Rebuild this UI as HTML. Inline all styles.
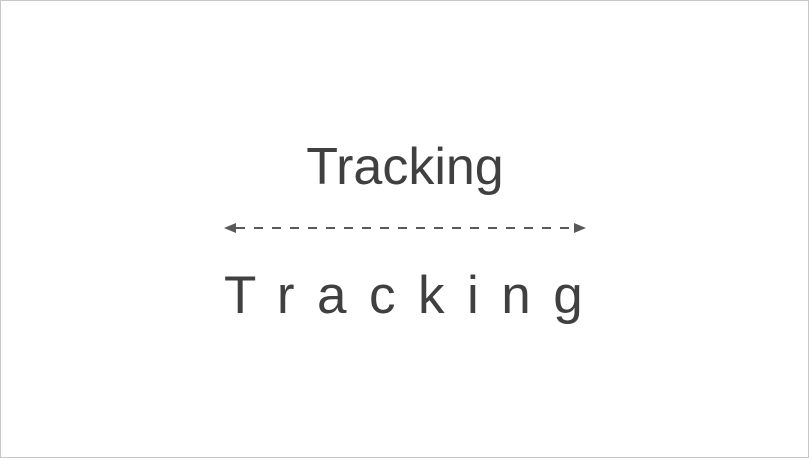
<!DOCTYPE html>
<html><head><meta charset="utf-8"><style>
html,body{margin:0;padding:0;background:#fff;}
svg{display:block;}
</style></head><body>
<svg width="809" height="458" viewBox="0 0 809 458">
<rect x="0.5" y="0.5" width="808" height="457" fill="#fff" stroke="#c8c8c8"/>
<text x="405" y="184" text-anchor="middle" font-family="Liberation Sans, sans-serif" font-size="52" fill="#404040">Tracking</text>
<g>
<line x1="236" y1="228" x2="575" y2="228" stroke="#595959" stroke-width="2" stroke-dasharray="9,9"/>
<polygon points="224,228 236,223 236,233" fill="#595959"/>
<polygon points="586,228 574,223 574,233" fill="#595959"/>
</g>
<text x="224" y="313" font-family="Liberation Sans, sans-serif" font-size="53" letter-spacing="22.5" fill="#404040">Tracking</text>
</svg>
</body></html>
